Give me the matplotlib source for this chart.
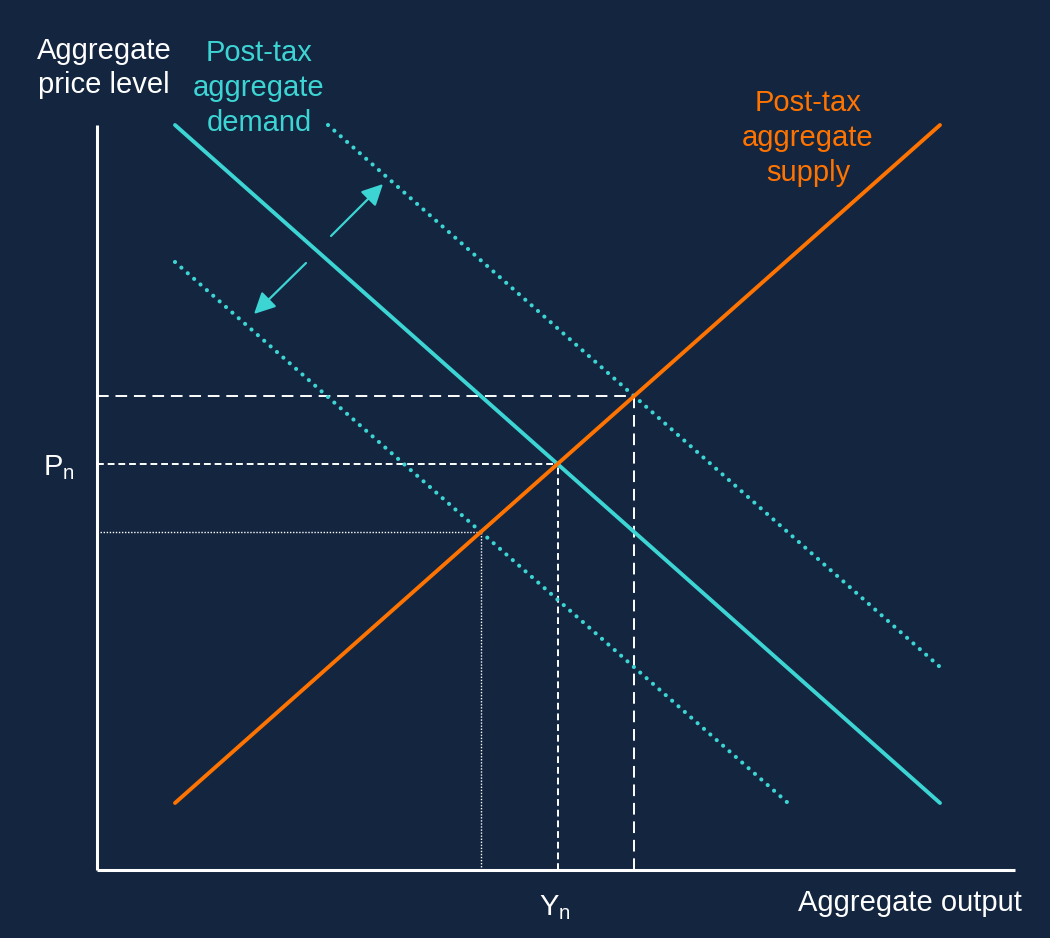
import numpy as np
import matplotlib
matplotlib.use("Agg")
import matplotlib.pyplot as plt

plt.rcParams['font.family'] = ['Liberation Sans', 'DejaVu Sans']
plt.rcParams['mathtext.fontset'] = 'custom'
plt.rcParams['mathtext.rm'] = 'Liberation Sans'

# curve end points (output, price level)
ad_output = [78, 843]
ad_price = [745, 67]
as_output = [78, 843]
as_price = [67, 745]
ad_up_output = [231, 843]
ad_up_price = [745, 203]
ad_down_output = [78, 691]
ad_down_price = [608, 67]

# shift arrows: (start, tip)
arrow_up = [(234, 634), (286, 686)]
arrow_down = [(209, 607), (157, 556)]

axis_x_max = 918
axis_y_max = 745

BG = '#13253f'
CYAN = '#3dd4d4'
ORANGE = '#ff7300'
WHITE = '#ffffff'


def crossing(x1, y1, x2, y2):
    # intersection of two straight lines given by end points
    a1 = (y1[1] - y1[0]) / (x1[1] - x1[0])
    a2 = (y2[1] - y2[0]) / (x2[1] - x2[0])
    b1 = y1[0] - a1 * x1[0]
    b2 = y2[0] - a2 * x2[0]
    x = (b2 - b1) / (a1 - a2)
    return x, a1 * x + b1


fig = plt.figure(figsize=(10.5, 9.38), dpi=100)
fig.patch.set_facecolor(BG)
ax = fig.add_axes([0, 0, 1, 1])
ax.set_facecolor(BG)
ax.set_xlim(-97, 953)
ax.set_ylim(-68, 870)
ax.axis('off')

# equilibrium points
e_mid = crossing(ad_output, ad_price, as_output, as_price)
e_up = crossing(ad_up_output, ad_up_price, as_output, as_price)
e_down = crossing(ad_down_output, ad_down_price, as_output, as_price)

# guide lines to the axes
ax.plot([0, e_up[0]], [e_up[1], e_up[1]], color=WHITE, lw=1.4, ls=(0, (6, 3.5)))
ax.plot([e_up[0], e_up[0]], [0, e_up[1]], color=WHITE, lw=1.4, ls=(0, (6, 3.5)))
ax.plot([0, e_mid[0]], [e_mid[1], e_mid[1]], color=WHITE, lw=1.4, ls=(0, (3.5, 2)))
ax.plot([e_mid[0], e_mid[0]], [0, e_mid[1]], color=WHITE, lw=1.4, ls=(0, (3.5, 2)))
ax.plot([0, e_down[0]], [e_down[1], e_down[1]], color=WHITE, lw=1.0, ls=(0, (1, 1.2)))
ax.plot([e_down[0], e_down[0]], [0, e_down[1]], color=WHITE, lw=1.0, ls=(0, (1, 1.2)))

# shifted demand curves
ax.plot(ad_up_output, ad_up_price, color=CYAN, lw=3.0,
        ls=(0, (0.01, 2.03)), dash_capstyle='round')
ax.plot(ad_down_output, ad_down_price, color=CYAN, lw=3.0,
        ls=(0, (0.01, 2.03)), dash_capstyle='round')

# demand and supply
ax.plot(ad_output, ad_price, color=CYAN, lw=2.8, solid_capstyle='round')
ax.plot(as_output, as_price, color=ORANGE, lw=2.8, solid_capstyle='round')

for start, tip in (arrow_up, arrow_down):
    ax.annotate('', xy=tip, xytext=start,
                arrowprops=dict(arrowstyle='-|>', color=CYAN, lw=1.6,
                                mutation_scale=32, shrinkA=0, shrinkB=0))

# axes
ax.plot([0, 0], [0, axis_y_max], color=WHITE, lw=2.2, solid_capstyle='butt')
ax.plot([0, axis_x_max], [0, 0], color=WHITE, lw=2.2, solid_capstyle='butt')

# labels
ax.text(7, 802, 'Aggregate\nprice level', color=WHITE, fontsize=21,
        ha='center', va='center', linespacing=1.28)
ax.text(925, -33, 'Aggregate output', color=WHITE, fontsize=21,
        ha='right', va='center')
ax.text(162, 782, 'Post-tax\naggregate\ndemand', color=CYAN, fontsize=21,
        ha='center', va='center', linespacing=1.33)
ax.text(711, 732, 'Post-tax\naggregate\nsupply', color=ORANGE, fontsize=21,
        ha='center', va='center', linespacing=1.33)
ax.text(-22, e_mid[1] - 4, r'$\mathrm{P_n}$', color=WHITE, fontsize=21,
        ha='right', va='center')
ax.text(e_mid[0] - 3, -38, r'$\mathrm{Y_n}$', color=WHITE, fontsize=21,
        ha='center', va='center')

fig.savefig('out.png', dpi=100, facecolor=BG)
